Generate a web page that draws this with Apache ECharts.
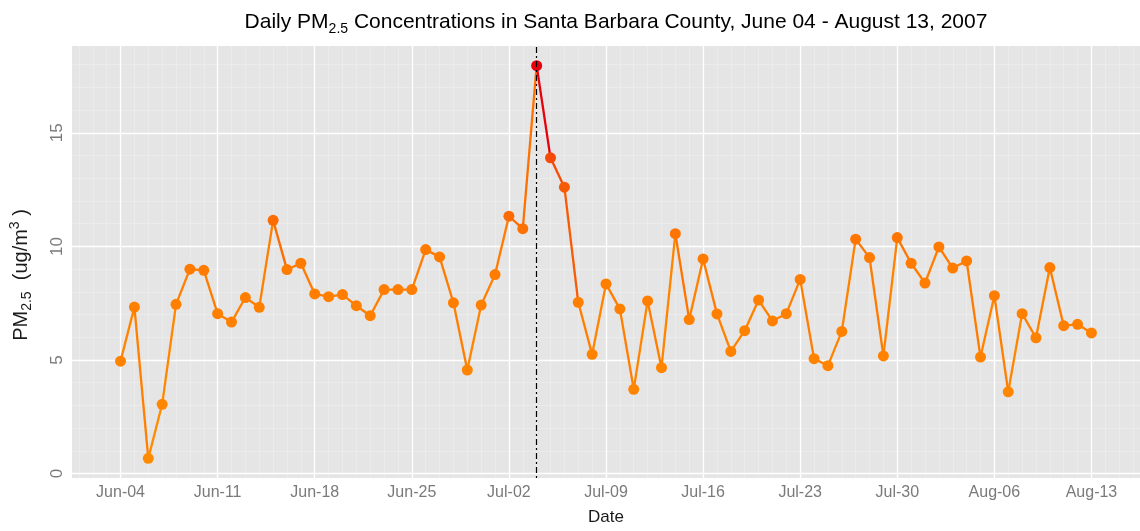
<!DOCTYPE html>
<html>
<head>
<meta charset="utf-8">
<script src="https://cdn.jsdelivr.net/npm/echarts@6/dist/echarts.min.js"></script>
<style>html,body{margin:0;padding:0;background:#fff}#c{width:1140px;height:531px}</style>
</head>
<body>
<div id="c"></div>
<script>
// ---- data ----
const startDate = '2007-06-04';
const values = [4.95,7.33,0.67,3.05,7.45,9.0,8.95,7.04,6.67,7.75,
  7.32,11.15,8.98,9.26,7.91,7.79,7.88,7.39,6.95,8.10,
  8.10,8.10,9.86,9.54,7.52,4.56,7.42,8.76,11.33,10.78,
  17.96,13.9,12.61,7.54,5.25,8.35,7.25,3.71,7.60,4.66,
  10.56,6.78,9.45,7.03,5.38,6.29,7.64,6.72,7.04,8.55,
  5.06,4.75,6.26,10.32,9.51,5.18,10.39,9.26,8.39,9.98,
  9.05,9.36,5.13,7.83,3.60,7.04,5.98,9.07,6.51,6.57,6.19];
const xTickDays = [0,7,14,21,28,35,42,49,56,63,70];
const xTickLabels = ['Jun-04','Jun-11','Jun-18','Jun-25','Jul-02','Jul-09','Jul-16','Jul-23','Jul-30','Aug-06','Aug-13'];
const yTicks = [0,5,10,15];
const eventDay = 30; // Jul-04

// ---- styles ----
const colorStops = [[0,[255,140,0]],[10,[255,122,0]],[14,[245,74,8]],[18,[230,0,12]]];
function colorFor(v){
  for(let i=0;i<colorStops.length-1;i++){
    const [a,ca]=colorStops[i],[b,cb]=colorStops[i+1];
    if(v<=b || i===colorStops.length-2){
      const t=Math.max(0,Math.min(1,(v-a)/(b-a)));
      const c=ca.map((x,k)=>Math.round(x+(cb[k]-x)*t));
      return 'rgb('+c.join(',')+')';
    }
  }
}
const n = values.length;
const vmin = Math.min(...values), vmax = Math.max(...values);
const yPad = (vmax - vmin) * 0.05;
const xPad = (n - 1) * 0.05;

const minorX = [], minorY = [];
for (let d = -3; d <= n + 2; d++) minorX.push({xAxis: d});
for (let y = 0; y <= 18; y++) minorY.push({yAxis: y});

const series = [];
// grid lines (drawn through the axes' scales)
series.push({type:'line', data:[], z:1, silent:true, animation:false,
  markLine:{z:1, silent:true, symbol:'none', animation:false, label:{show:false},
    lineStyle:{color:'#EEEEEE', width:0.6, type:'solid'},
    data: minorX.concat(minorY)}});
series.push({type:'line', data:[], z:1, silent:true, animation:false,
  markLine:{z:1, silent:true, symbol:'none', animation:false, label:{show:false},
    lineStyle:{color:'#FFFFFF', width:1.3, type:'solid'},
    data: xTickDays.map(d=>({xAxis:d})).concat(yTicks.map(v=>({yAxis:v})))}});
// line segments, each coloured by its starting value
for (let i = 0; i < n - 1; i++) {
  series.push({type:'line', z:3, symbol:'none', animation:false, silent:true,
    data:[[i, values[i]],[i+1, values[i+1]]],
    lineStyle:{color:colorFor(values[i]), width:2.3}});
}
// points
series.push({type:'scatter', z:4, animation:false, symbolSize:11,
  data: values.map((v,i)=>[i,v]),
  itemStyle:{color:p=>colorFor(p.value[1]), opacity:1}});
// event line
series.push({type:'line', data:[], z:5, silent:true, animation:false,
  markLine:{z:5, silent:true, symbol:'none', animation:false, label:{show:false},
    lineStyle:{color:'#000', width:1.2, type:[2,3,6,3]},
    data:[{xAxis:eventDay}]}});

const chart = echarts.init(document.getElementById('c'), null, {renderer:'canvas'});
chart.setOption({
  backgroundColor:'#fff',
  animation:false,
  title:{
    text:'{a|Daily PM}{s|2.5}{a| Concentrations in Santa Barbara County, June 04 - August 13, 2007}',
    left:611, top:3, textAlign:'center',
    textStyle:{fontWeight:'normal', rich:{
      a:{fontFamily:'Liberation Sans', fontWeight:'normal', fontSize:21, color:'#000', lineHeight:28},
      s:{fontFamily:'Liberation Sans', fontWeight:'normal', fontSize:14, color:'#000', lineHeight:14, verticalAlign:'bottom'}
    }}
  },
  grid:{left:72, top:46, right:-10, bottom:53, show:true, backgroundColor:'#E5E5E5', borderWidth:0, containLabel:false},
  xAxis:{type:'value', min:-xPad, max:n-1+xPad,
    name:'Date', nameLocation:'middle', nameGap:31,
    nameTextStyle:{fontFamily:'Liberation Sans', fontSize:17, color:'#1a1a1a'},
    axisLine:{show:false},
    axisTick:{show:true, customValues:xTickDays, length:4, lineStyle:{color:'#555'}},
    axisLabel:{customValues:xTickDays, formatter:v=>xTickLabels[xTickDays.indexOf(Math.round(v))]||'',
      fontFamily:'Liberation Sans', fontSize:16, color:'#7a7a7a', margin:7},
    splitLine:{show:false}},
  yAxis:{type:'value', min:vmin-yPad, max:vmax+yPad,
    name:'{a|PM}{s|2.5}{a|  (ug/m}{p|3}{a| )}', nameLocation:'middle', nameGap:38, nameRotate:90,
    nameTextStyle:{padding:[0,26,0,0], rich:{
      a:{fontFamily:'Liberation Sans', fontSize:20, color:'#1a1a1a', lineHeight:26},
      s:{fontFamily:'Liberation Sans', fontSize:14, color:'#1a1a1a', lineHeight:14, verticalAlign:'bottom'},
      p:{fontFamily:'Liberation Sans', fontSize:14, color:'#1a1a1a', lineHeight:14, verticalAlign:'top'}
    }},
    axisLine:{show:false},
    axisTick:{show:true, customValues:yTicks, length:4, lineStyle:{color:'#555'}},
    axisLabel:{customValues:yTicks, rotate:90, fontFamily:'Liberation Sans', fontSize:17, color:'#7a7a7a', margin:6},
    splitLine:{show:false}},
  series: series
});
</script>
</body>
</html>
